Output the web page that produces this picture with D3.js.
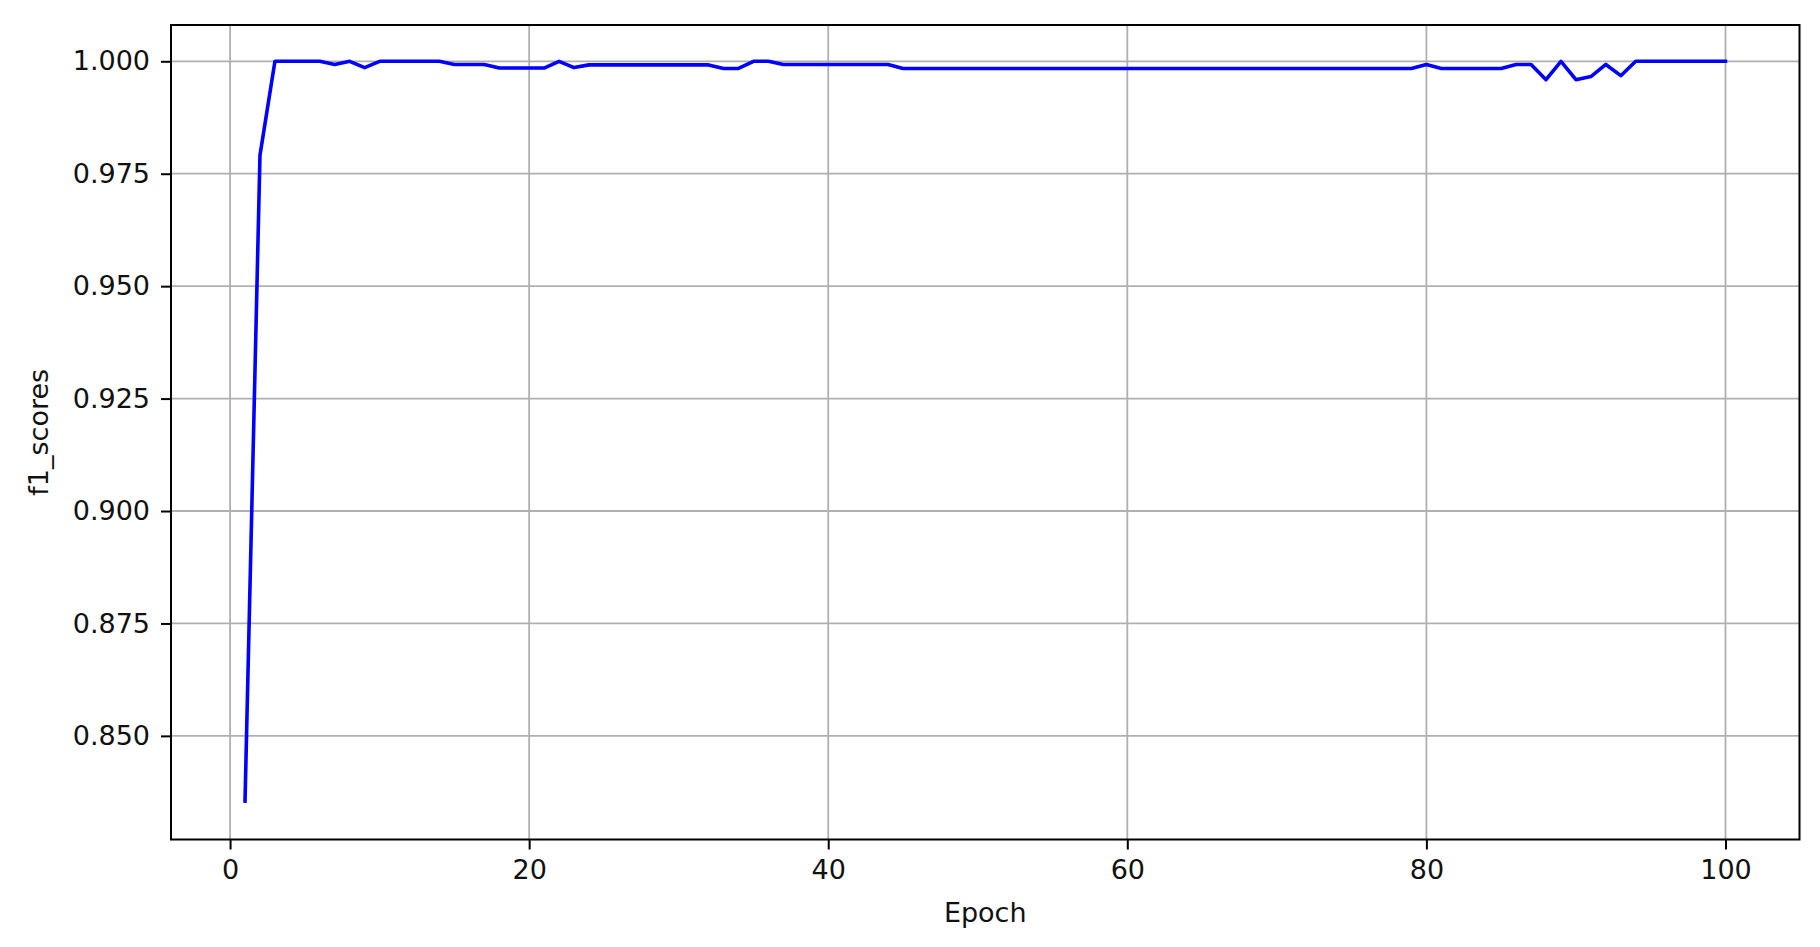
<!DOCTYPE html>
<html>
<head>
<meta charset="utf-8">
<script src="https://cdn.jsdelivr.net/npm/d3@7"></script>
<style>
  body { margin: 0; background: #fff; }
  text { font-family: "DejaVu Sans", sans-serif; fill: #000; }
</style>
</head>
<body>
<script>
//data
var epochs = d3.range(1, 101);
var f1Scores = [
    0.8355, 0.9791, 1.0000, 1.0000, 1.0000, 1.0000, 0.9993, 1.0000, 0.9986, 1.0000,
    1.0000, 1.0000, 1.0000, 1.0000, 0.9993, 0.9993, 0.9993, 0.9985, 0.9985, 0.9985,
    0.9985, 1.0000, 0.9986, 0.9992, 0.9992, 0.9992, 0.9992, 0.9992, 0.9992, 0.9992,
    0.9992, 0.9992, 0.9984, 0.9984, 1.0000, 1.0000, 0.9993, 0.9993, 0.9993, 0.9993,
    0.9993, 0.9993, 0.9993, 0.9993, 0.9984, 0.9984, 0.9984, 0.9984, 0.9984, 0.9984,
    0.9984, 0.9984, 0.9984, 0.9984, 0.9984, 0.9984, 0.9984, 0.9984, 0.9984, 0.9984,
    0.9984, 0.9984, 0.9984, 0.9984, 0.9984, 0.9984, 0.9984, 0.9984, 0.9984, 0.9984,
    0.9984, 0.9984, 0.9984, 0.9984, 0.9984, 0.9984, 0.9984, 0.9984, 0.9984, 0.9993,
    0.9984, 0.9984, 0.9984, 0.9984, 0.9984, 0.9993, 0.9993, 0.9959, 1.0000, 0.9959,
    0.9966, 0.9993, 0.9968, 1.0000, 1.0000, 1.0000, 1.0000, 1.0000, 1.0000, 1.0000
];
var xTicks = [0, 20, 40, 60, 80, 100];
var yTicks = [0.850, 0.875, 0.900, 0.925, 0.950, 0.975, 1.000];

//svg size and plot box edges
var w = 1820, h = 947;
var plotLeft = 171, plotRight = 1799.5, plotTop = 25, plotBottom = 839.5;

var svg = d3.select("body")
    .append("svg")
    .attr("width", w)
    .attr("height", h)
    .style("display", "block");

//scales with matplotlib style 5% margins
var x = d3.scaleLinear()
    .domain([-3.95, 104.95])
    .range([plotLeft, plotRight]);

var y = d3.scaleLinear()
    .domain([0.82696, 1.00807])
    .range([plotBottom, plotTop]);

//grid lines
var grid = svg.append("g").attr("class", "grid");
grid.selectAll(".vgrid")
    .data(xTicks)
    .enter()
    .append("line")
    .attr("x1", function(d){ return x(d); })
    .attr("x2", function(d){ return x(d); })
    .attr("y1", plotTop)
    .attr("y2", plotBottom)
    .style("stroke", "#b0b0b0")
    .style("stroke-width", 1.8);

grid.selectAll(".hgrid")
    .data(yTicks)
    .enter()
    .append("line")
    .attr("x1", plotLeft)
    .attr("x2", plotRight)
    .attr("y1", function(d){ return y(d); })
    .attr("y2", function(d){ return y(d); })
    .style("stroke", "#b0b0b0")
    .style("stroke-width", 1.8);

//the f1 line
var line = d3.line()
    .x(function(d, i){ return x(epochs[i]); })
    .y(function(d){ return y(d); });

svg.append("path")
    .datum(f1Scores)
    .attr("d", line)
    .style("fill", "none")
    .style("stroke", "#0000ff")
    .style("stroke-width", 3.6)
    .style("stroke-linejoin", "round")
    .style("stroke-linecap", "square");

//axes
var xAxis = d3.axisBottom(x)
    .tickValues(xTicks)
    .tickSize(10)
    .tickPadding(10)
    .tickFormat(d3.format("d"));

var yAxis = d3.axisLeft(y)
    .tickValues(yTicks)
    .tickSize(10)
    .tickPadding(11)
    .tickFormat(d3.format(".3f"));

var gx = svg.append("g")
    .attr("transform", "translate(0," + plotBottom + ")")
    .call(xAxis);

var gy = svg.append("g")
    .attr("transform", "translate(" + plotLeft + ",0)")
    .call(yAxis);

[gx, gy].forEach(function(g){
    g.select(".domain").remove();
    g.selectAll(".tick line").style("stroke", "#000").style("stroke-width", 2);
    g.selectAll(".tick text")
        .style("font-size", "27px")
        .style("font-family", "DejaVu Sans, sans-serif")
        .style("fill", "#111");
});

//frame around the plot
svg.append("rect")
    .attr("x", plotLeft)
    .attr("y", plotTop)
    .attr("width", plotRight - plotLeft)
    .attr("height", plotBottom - plotTop)
    .style("fill", "none")
    .style("stroke", "#000")
    .style("stroke-width", 2);

//axis titles
svg.append("text")
    .attr("x", (plotLeft + plotRight) / 2)
    .attr("y", 922)
    .attr("text-anchor", "middle")
    .style("font-size", "27px")
    .style("fill", "#111")
    .text("Epoch");

svg.append("text")
    .attr("transform", "translate(48," + (plotTop + plotBottom) / 2 + ") rotate(-90)")
    .attr("text-anchor", "middle")
    .style("font-size", "27px")
    .style("fill", "#111")
    .text("f1_scores");
</script>
</body>
</html>
